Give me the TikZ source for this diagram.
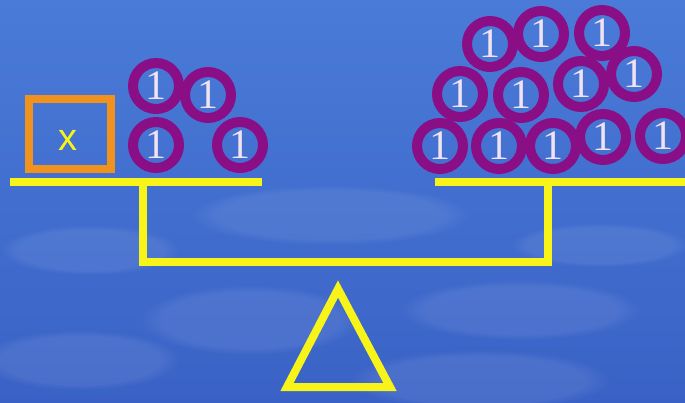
\documentclass[tikz,border=0pt]{standalone}
\usepackage{fontspec}
\newfontfamily\coinfont{Liberation Serif}
\newfontfamily\varfont{Liberation Sans}
\usetikzlibrary{fadings}
\definecolor{skytop}{HTML}{4A7BD8}
\definecolor{skybottom}{HTML}{3A62C6}
\definecolor{beamyellow}{HTML}{F8F41A}
\definecolor{coinpurple}{HTML}{8A0E86}
\definecolor{boxorange}{HTML}{F0921E}
\tikzset{
  beam/.style={draw=beamyellow, line width=4pt},
  coin/.style={circle, draw=coinpurple, line width=5pt, minimum size=23pt, inner sep=0pt,
    text=white!88!coinpurple, font=\coinfont\fontsize{21}{21}\selectfont},
  xbox/.style={draw=boxorange, line width=4pt, minimum width=41pt, minimum height=35pt, inner sep=0pt},
  cloud/.style={fill=white, opacity=.08, path fading=circle with fuzzy edge 20 percent}
}
\begin{document}
\begin{tikzpicture}[x=0.5pt, y=-0.5pt]
    \useasboundingbox (0,0) rectangle (685,402);
    \shade[top color=skytop, bottom color=skybottom] (0,0) rectangle (685,402);
    \begin{scope}
        \clip (0,0) rectangle (685,402);
        \fill[cloud] (330,215) ellipse (140 and 30);
        \fill[cloud] (90,250) ellipse (90 and 25);
        \fill[cloud] (600,245) ellipse (90 and 22);
        \fill[cloud] (250,320) ellipse (110 and 35);
        \fill[cloud] (520,310) ellipse (120 and 30);
        \fill[cloud] (80,360) ellipse (100 and 30);
        \fill[cloud] (480,380) ellipse (130 and 30);
    \end{scope}
    \draw[beam] (10,182) -- (262,182);
    \draw[beam] (435,182) -- (685,182);
    \draw[beam, line join=miter] (143,182) -- (143,262) -- (548,262) -- (548,182);
    \draw[beam, line join=miter] (338,289) -- (390,387) -- (287,387) -- cycle;
    \node[xbox] (xbox) at (70,134) {};
    \node[text=beamyellow, font=\varfont\fontsize{19}{19}\selectfont] (xvar) at (68,140) {x};
    \foreach \name/\pos in {l1/{(156,86)}, l2/{(208,95)}, l3/{(156,145)}, l4/{(240,145)}}
        \node[coin] (\name) at \pos {1};
    \foreach \name/\pos in {r1/{(490,44)}, r2/{(541,34)}, r3/{(602,33)},
        r4/{(460,94)}, r5/{(521,95)}, r6/{(581,84)}, r7/{(634,74)},
        r8/{(440,146)}, r9/{(499,146)}, r10/{(553,146)}, r11/{(603,137)}, r12/{(663,136)}}
        \node[coin] (\name) at \pos {1};
\end{tikzpicture}
\end{document}
